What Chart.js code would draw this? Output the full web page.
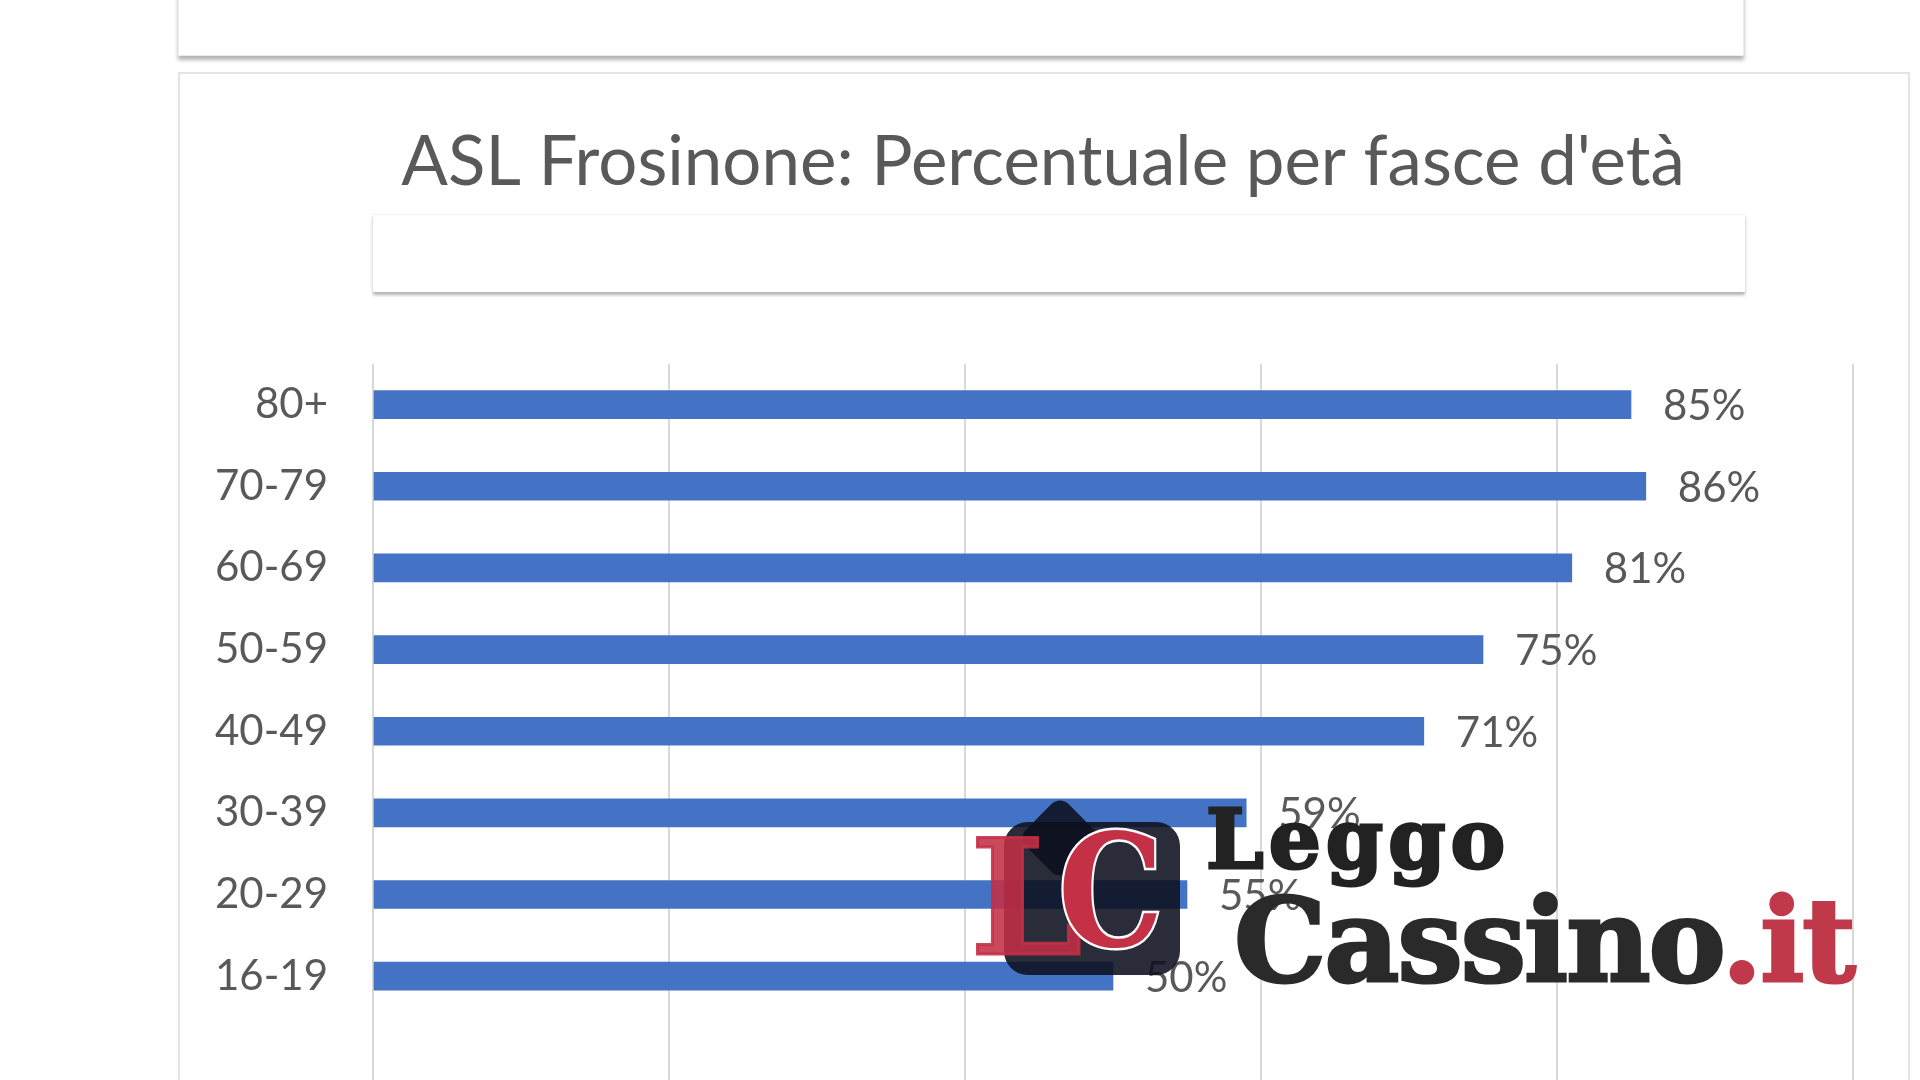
<!DOCTYPE html>
<html>
<head>
<meta charset="utf-8">
<script src="https://cdn.jsdelivr.net/npm/chart.js@4.4.1/dist/chart.umd.min.js"></script>
<style>
  html, body { margin: 0; padding: 0; width: 1920px; height: 1080px; overflow: hidden; background: #fff; }
  .card-top { position: absolute; left: 178px; top: -30px; width: 1564px; height: 84px; background: #fff;
    border: 1px solid #ececec; box-shadow: 0 4px 4px rgba(0,0,0,0.30); }
  .card-main { position: absolute; left: 178px; top: 72px; width: 1732px; height: 1100px; background: #fff;
    border: 2px solid #e4e4e4; box-sizing: border-box; }
  .sub-box { position: absolute; left: 373px; top: 214px; width: 1372px; height: 77px; background: #fff;
    border-top: 1px solid #f2f2f2; box-shadow: 0 3px 3px rgba(0,0,0,0.30); }
  #chartWrap { position: absolute; left: 0; top: 100px; width: 1920px; height: 1017px; }
  /* watermark */
  .wm { position: absolute; line-height: 1; font-family: "DejaVu Serif", serif; font-weight: bold; white-space: nowrap; }
  .lc-back { position: absolute; left: 1004px; top: 822px; width: 176px; height: 153px; border-radius: 24px;
    background: rgba(12,16,30,0.88); }
  .lc-roof { position: absolute; left: 1030px; top: 808px; width: 60px; height: 60px; border-radius: 12px;
    background: rgba(12,16,30,0.88); transform: rotate(45deg); }
  .lc-l { left: 970px; top: 818px; font-size: 160px; color: rgba(196,48,70,0.88); -webkit-text-stroke: 3px rgba(196,48,70,0.88); }
  .lc-c { left: 1058px; top: 814px; font-size: 156px; color: #c43046; -webkit-text-stroke: 5px #fff;
    paint-order: stroke fill; transform: scaleX(0.85); transform-origin: left top; }
  .leggo { left: 1206px; top: 798px; font-size: 82px; color: #222; letter-spacing: 5px; -webkit-text-stroke: 3px #222; }
  .cassino { left: 1234px; top: 882px; font-size: 116px; color: #2a2a2a; letter-spacing: -2px; -webkit-text-stroke: 3px #2a2a2a; }
  .cassino span { color: #c0394b; -webkit-text-stroke: 3px #c0394b; }
</style>
</head>
<body>
<div class="card-top"></div>
<div class="card-main"></div>
<div class="sub-box"></div>
<div id="chartWrap"><canvas id="chart1"></canvas></div>

<div class="lc-roof"></div>
<div class="lc-back"></div>
<div class="wm lc-l">L</div>
<div class="wm lc-c">C</div>
<div class="wm leggo">Leggo</div>
<div class="wm cassino">Cassino<span>.it</span></div>

<script>
// fasce d'età (dall'alto in basso) e percentuali
const ageGroups = ['80+', '70-79', '60-69', '50-59', '40-49', '30-39', '20-29', '16-19'];
const percentValues = [85, 86, 81, 75, 71, 59, 55, 50];
const axisMin = 0;
const axisMax = 100;
const axisStep = 20;
const chartTitle = "ASL Frosinone: Percentuale per fasce d'età";

const textGray = '#595959';
const barBlue = '#4472C4';
const fontFamily = 'Lato, "Open Sans", sans-serif';

// etichette dei valori a destra delle barre
const valueLabels = {
  id: 'valueLabels',
  afterDatasetsDraw(chart) {
    const ctx = chart.ctx;
    const meta = chart.getDatasetMeta(0);
    ctx.save();
    ctx.font = '42px ' + fontFamily;
    ctx.fillStyle = textGray;
    ctx.textAlign = 'left';
    ctx.textBaseline = 'middle';
    meta.data.forEach((bar, i) => {
      ctx.fillText(percentValues[i] + '%', bar.x + 32, bar.y + 2);
    });
    ctx.restore();
  }
};

// il titolo nell'originale non è centrato sul canvas: sposto il suo box
const titleShift = {
  id: 'titleShift',
  afterLayout(chart) {
    const t = chart.titleBlock;
    if (t) { t.left = 233; t.width = t.right - t.left; }
  }
};

const ctx = document.getElementById('chart1').getContext('2d');
new Chart(ctx, {
  type: 'bar',
  data: {
    labels: ageGroups,
    datasets: [{
      label: 'Percentuale',
      data: percentValues,
      backgroundColor: barBlue,
      borderWidth: 0,
      barThickness: 28
    }]
  },
  options: {
    indexAxis: 'y',
    responsive: true,
    maintainAspectRatio: false,
    animation: false,
    layout: { padding: { left: 150, right: 67, top: 0, bottom: 0 } },
    plugins: {
      legend: { display: false },
      tooltip: { enabled: false },
      title: {
        display: true,
        text: chartTitle,
        color: textGray,
        font: { family: fontFamily, size: 69, weight: 'normal' },
        padding: { top: 21, bottom: 160 }
      }
    },
    scales: {
      x: {
        position: 'bottom',
        min: axisMin,
        max: axisMax,
        ticks: { display: false, stepSize: axisStep },
        grid: { color: '#d9d9d9', lineWidth: 2, drawTicks: true, tickLength: 100 },
        border: { display: false }
      },
      y: {
        afterFit: (scale) => { scale.width = 223; },
        grid: { display: false },
        border: { display: false },
        ticks: {
          color: textGray,
          padding: 37,
          font: { family: fontFamily, size: 42 }
        }
      }
    }
  },
  plugins: [valueLabels, titleShift]
});
</script>
</body>
</html>
